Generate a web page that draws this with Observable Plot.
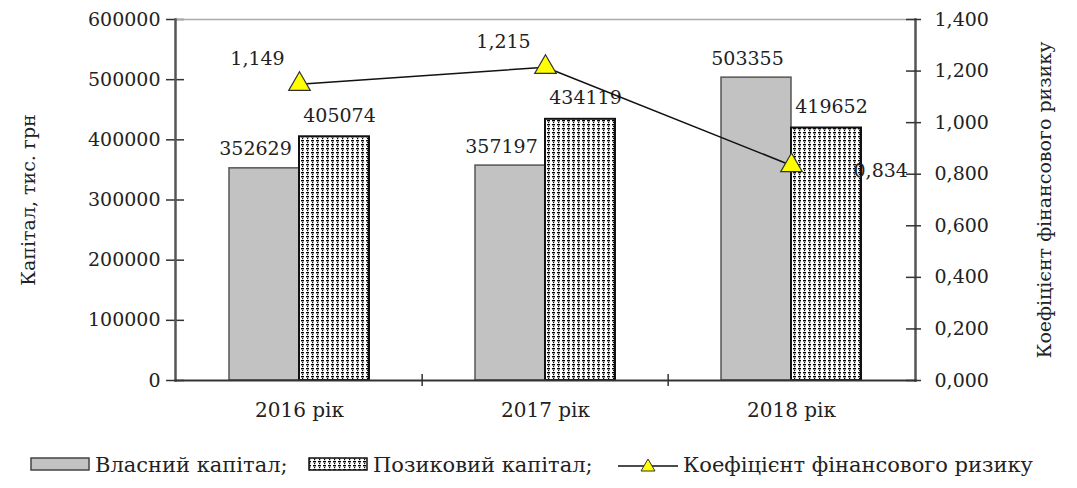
<!DOCTYPE html>
<html>
<head>
<meta charset="utf-8">
<script src="https://cdn.jsdelivr.net/npm/d3@7"></script>
<script src="https://cdn.jsdelivr.net/npm/@observablehq/plot@0.6"></script>
<style>
  html, body { margin: 0; padding: 0; background: #fff; }
  #wrap { position: relative; width: 1077px; height: 440px; }
  #wrap svg { position: absolute; left: 0; top: 0; }
  #legend { position: relative; width: 1077px; height: 48px; font-family: "DejaVu Serif", serif; font-size: 21px; color: #222; }
  #legend .item { position: absolute; top: 13px; display: flex; align-items: center; white-space: nowrap; }
  #legend svg { display: block; margin-right: 5px; }
</style>
</head>
<body>
<div id="wrap"></div>
<div id="legend"></div>
<script>
// ---- data ----
const years = ["2016 рік", "2017 рік", "2018 рік"];
const seriesNames = ["Власний капітал", "Позиковий капітал"];
const ownCapital = [352629, 357197, 503355];
const borrowedCapital = [405074, 434119, 419652];
const riskRatio = [1.149, 1.215, 0.834];
const capitalTicks = [0, 100000, 200000, 300000, 400000, 500000, 600000];
const ratioTicks = [0, 0.2, 0.4, 0.6, 0.8, 1.0, 1.2, 1.4];
const leftTitle = "Капітал, тис. грн";
const rightTitle = "Коефіцієнт фінансового ризику";

// ---- layout ----
const W = 1077, H = 440, mT = 19, mB = 60, mL = 175, mR = 162;
const step = (W - mL - mR) / years.length;
const font = "DejaVu Serif";
const fmtRatio = d => d3.format(".3f")(d).replace(".", ",");

const rows = years.flatMap((y, i) => [
  {year: y, series: seriesNames[0], value: ownCapital[i]},
  {year: y, series: seriesNames[1], value: borrowedCapital[i]}
]);
const ratioRows = years.map((y, i) => ({year: y, value: riskRatio[i]}));
const own = rows.filter(d => d.series === seriesNames[0]);
const borrowed = rows.filter(d => d.series === seriesNames[1]);

// ---- bars plot (left axis) ----
const p1 = Plot.plot({
  width: W, height: H, marginTop: mT, marginBottom: mB, marginLeft: mL, marginRight: mR,
  style: {fontFamily: font, fontSize: "19px", color: "#222", background: "transparent"},
  fx: {domain: years, padding: 0, axis: null, label: null},
  x: {domain: seriesNames, paddingInner: 0, paddingOuter: 0.737, axis: null},
  y: {domain: [0, 600000], axis: null},
  marks: [
    Plot.barY(own, {fx: "year", x: "series", y: "value", fill: "#c2c2c2", stroke: "#555", strokeWidth: 1.5}),
    Plot.barY(borrowed, {fx: "year", x: "series", y: "value", fill: "url(#dotpat)", stroke: "#111", strokeWidth: 2}),
    Plot.text(own, {fx: "year", x: "series", y: "value", text: d => String(d.value), dx: -9, dy: -19, fontSize: 19, fill: "#222"}),
    Plot.text(borrowed, {fx: "year", x: "series", y: "value", text: d => String(d.value), dx: 5, dy: -21, fontSize: 19, fill: "#222"}),
    Plot.axisY({anchor: "left", ticks: capitalTicks, tickFormat: d => String(d), tickSize: 10, tickPadding: 6,
      fontSize: 19, stroke: "#333", strokeWidth: 1.5, label: leftTitle, labelAnchor: "center", labelOffset: 155, labelArrow: "none"}),
    Plot.axisY({anchor: "left", ticks: capitalTicks, tickFormat: () => "", tickSize: -8, stroke: "#333", strokeWidth: 1.5, label: null}),
    Plot.axisFx({anchor: "bottom", tickSize: 0, tickPadding: 22, fontSize: 20, label: null})
  ]
});

// pattern definition for borrowed capital bars
const svg1 = d3.select(p1.tagName.toLowerCase() === "svg" ? p1 : p1.querySelector("svg"));
const defs = svg1.insert("defs", ":first-child");
const pat = defs.append("pattern").attr("id", "dotpat").attr("patternUnits", "userSpaceOnUse")
  .attr("width", 5).attr("height", 4);
pat.append("rect").attr("width", 5).attr("height", 4).attr("fill", "#fff");
pat.append("rect").attr("x", 0).attr("y", 0).attr("width", 3).attr("height", 1.4).attr("fill", "#000");
pat.append("rect").attr("x", 1).attr("y", 2).attr("width", 1.2).attr("height", 1.2).attr("fill", "#000");

// ---- ratio plot (right axis) ----
const p2 = Plot.plot({
  width: W, height: H, marginTop: mT, marginBottom: mB, marginLeft: mL, marginRight: mR,
  style: {fontFamily: font, fontSize: "19px", color: "#222", background: "transparent"},
  x: {type: "point", domain: years, padding: 0.5, axis: null},
  y: {domain: [0, 1.4], axis: null},
  marks: [
    Plot.frame({anchor: "top", stroke: "#aaa", strokeWidth: 1.5}),
    Plot.frame({anchor: "left", stroke: "#555", strokeWidth: 2.5}),
    Plot.frame({anchor: "right", stroke: "#555", strokeWidth: 2.5}),
    Plot.frame({anchor: "bottom", stroke: "#333", strokeWidth: 2}),
    Plot.axisX({anchor: "bottom", ticks: years.slice(1), tickFormat: () => "", tickSize: 12, dy: -6, dx: -step / 2, stroke: "#333", strokeWidth: 1.5, label: null}),
    Plot.axisY({anchor: "right", ticks: ratioTicks, tickFormat: fmtRatio, tickSize: 5, tickPadding: 14,
      fontSize: 19, stroke: "#333", strokeWidth: 1.5, label: rightTitle, labelAnchor: "center", labelOffset: 135, labelArrow: "none"}),
    Plot.axisY({anchor: "right", ticks: ratioTicks, tickFormat: () => "", tickSize: -10, stroke: "#333", strokeWidth: 1.5, label: null}),
    Plot.line(ratioRows, {x: "year", y: "value", stroke: "#111", strokeWidth: 1.5}),
    Plot.dot(ratioRows, {x: "year", y: "value", symbol: "triangle", r: 8, fill: "#ffff00", stroke: "#333", strokeWidth: 1.2}),
    Plot.text(ratioRows.slice(0, 2), {x: "year", y: "value", text: d => fmtRatio(d.value), dx: -42, dy: -25, fontSize: 19, fill: "#222"}),
    Plot.text(ratioRows.slice(2), {x: "year", y: "value", text: d => fmtRatio(d.value), dx: 62, dy: 5, textAnchor: "start", fontSize: 19, fill: "#222"})
  ]
});

const wrap = document.getElementById("wrap");
wrap.appendChild(p1);
wrap.appendChild(p2);

// ---- legend ----
const legend = document.getElementById("legend");
const items = [
  {left: 30, label: seriesNames[0] + ";", sw: `<rect x="1" y="1" width="58" height="12" fill="#c2c2c2" stroke="#444" stroke-width="1.5"/>`},
  {left: 308, label: seriesNames[1] + ";", sw: `<defs><pattern id="lgpat" patternUnits="userSpaceOnUse" width="5" height="4"><rect width="5" height="4" fill="#fff"/><rect width="3" height="1.4" fill="#000"/><rect x="1" y="2" width="1.2" height="1.2" fill="#000"/></pattern></defs><rect x="1" y="1" width="58" height="12" fill="url(#lgpat)" stroke="#111" stroke-width="1.5"/>`},
  {left: 618, label: rightTitle, sw: `<line x1="0" y1="9" x2="60" y2="9" stroke="#111" stroke-width="1.5"/><path d="M30,2 L37,14 L23,14 Z" fill="#ffff00" stroke="#333" stroke-width="1"/>`}
];
for (const it of items) {
  const div = document.createElement("div");
  div.className = "item";
  div.style.left = it.left + "px";
  div.innerHTML = `<svg width="60" height="16">${it.sw}</svg><span>${it.label}</span>`;
  legend.appendChild(div);
}
</script>
</body>
</html>
